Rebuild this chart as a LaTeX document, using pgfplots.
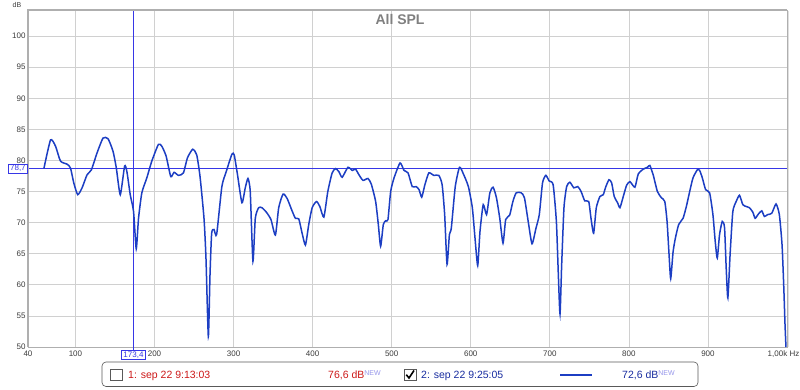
\documentclass[border=0pt]{standalone}
\usepackage{pgfplots}
\pgfplotsset{compat=1.18}
\usepackage{pgfplotstable}
\usepackage{fontspec}
\setmainfont{Liberation Sans}
\definecolor{curve}{RGB}{28,62,195}
\definecolor{cursorc}{RGB}{55,55,230}
\definecolor{gridc}{RGB}{208,208,208}
\definecolor{tickc}{RGB}{60,60,60}
\definecolor{titlec}{RGB}{128,128,128}
\definecolor{redc}{RGB}{205,25,25}
\definecolor{bluet}{RGB}{25,45,160}
\definecolor{newc}{RGB}{150,150,235}
\definecolor{framec}{RGB}{175,175,175}

\pgfplotstableread{
f db
60.1 78.7
68.5 83.3
74.8 82.3
81.1 79.9
89.5 79.4
93.7 78.8
97.9 76.4
102.9 74.5
108.4 75.6
114.7 77.7
120.2 78.5
127.3 81.2
134.9 83.6
141.2 83.5
147.5 81.5
151.7 78.8
156.7 74.5
162.2 79.1
165.1 78.2
169.3 74.5
173.5 71.8
176.9 65.8
179.8 70.7
184.0 74.8
190.3 77.2
196.6 79.9
205.0 82.6
209.2 82.3
214.7 80.7
220.6 77.4
224.8 78.1
230.3 77.6
236.6 78.0
241.6 80.4
248.3 81.8
253.4 80.9
257.6 77.4
262.6 70.7
265.1 64.3
268.1 51.7
270.2 61.6
272.3 68.3
275.2 68.9
278.6 68.1
285.2 75.8
290.7 78.2
297.9 81.0
300.8 80.9
305.0 77.7
310.6 73.2
314.8 75.6
318.2 77.1
321.1 75.0
324.5 63.8
327.5 70.7
331.7 72.4
335.9 72.4
341.4 71.7
347.3 70.5
352.9 68.0
357.1 72.4
362.6 74.6
367.7 73.9
374.0 71.9
378.2 70.7
382.5 70.6
386.7 68.3
390.9 66.4
395.1 69.7
399.4 72.4
404.9 73.4
409.1 72.6
414.2 70.9
419.2 75.0
424.7 78.0
429.0 78.7
433.2 78.2
437.4 77.3
444.6 78.9
450.1 78.4
454.3 78.6
458.6 77.7
463.7 76.8
470.0 77.1
474.2 76.2
479.7 73.4
483.1 69.7
486.0 66.2
489.4 69.7
492.4 70.3
495.3 70.5
498.7 75.0
503.0 77.2
510.6 79.6
515.6 78.4
520.7 78.0
526.0 75.8
531.0 75.8
534.6 75.3
538.0 74.1
542.0 76.1
547.0 78.0
553.3 77.6
559.6 77.6
563.8 76.1
567.0 71.3
570.0 63.3
573.0 68.1
575.4 69.1
580.4 75.8
585.8 78.9
590.8 77.8
597.0 75.8
602.0 72.4
605.4 67.5
608.8 63.1
611.7 68.6
615.8 72.9
620.0 71.3
624.2 74.8
628.3 75.7
632.5 74.0
636.7 70.7
640.8 66.7
644.2 70.5
649.2 71.2
653.3 73.4
657.5 74.8
663.8 74.8
667.9 74.0
672.9 70.0
677.5 66.6
682.5 69.1
686.7 71.3
690.8 76.4
695.0 77.6
699.2 76.7
704.2 76.1
708.3 70.2
710.8 61.6
712.9 55.3
715.0 63.2
717.9 72.4
721.3 75.8
725.4 76.5
730.4 75.6
735.4 75.8
739.6 75.0
744.2 73.5
749.2 73.4
752.1 70.7
755.4 68.3
758.8 72.4
763.4 74.2
767.6 74.5
770.6 75.7
774.8 76.9
778.2 76.4
781.5 74.2
785.7 73.2
788.7 72.4
792.9 74.2
797.1 76.0
801.3 76.6
807.6 75.7
811.8 77.8
818.1 78.6
823.5 78.9
826.5 79.2
830.7 77.7
836.1 75.0
841.2 74.0
845.4 73.4
848.3 70.2
850.8 64.9
852.9 61.0
855.9 65.3
858.8 67.5
863.0 69.7
868.5 70.7
872.7 72.6
876.9 75.0
881.1 77.2
886.6 78.5
889.5 78.4
892.9 77.2
897.1 75.3
902.1 74.8
906.3 71.3
909.2 67.0
911.8 64.3
914.7 68.1
918.1 70.2
921.0 69.2
923.1 62.7
925.2 57.9
928.2 65.3
931.5 71.8
935.7 73.4
939.9 74.4
944.1 72.9
948.3 72.6
952.5 72.4
956.7 71.7
959.7 70.7
963.9 71.4
968.1 71.9
971.4 71.0
975.6 71.3
980.7 71.5
986.1 73.0
990.3 71.3
993.7 66.5
995.8 60.1
997.5 53.6
998.7 50.0
}\spl

\begin{document}
\begin{tikzpicture}[x=1pt,y=1pt]
\useasboundingbox (0,0) rectangle (800,389);
\fill[white] (0,0) rectangle (800,389);
\begin{axis}[at={(28pt,42pt)}, anchor=south west, scale only axis,
  width=759pt, height=337pt,
  xmin=40, xmax=1000, ymin=50, ymax=104.2,
  xtick={40,100,200,300,400,500,600,700,800,900,1000},
  xticklabels={40,100,200,300,400,500,600,700,800,900,{1,00k Hz\hspace*{7pt}}},
  ytick={50,55,...,100},
  grid=major, grid style={gridc, line width=0.7pt},
  major tick length=0pt,
  axis line style={draw=framec, line width=1pt},
  ticklabel style={font=\fontsize{8}{9}\selectfont, text=tickc},
  /pgf/number format/assume math mode=true,
  yticklabel style={xshift=1pt},
  clip=true]
\addplot[draw=cursorc, line width=0.8pt] coordinates {(40,78.7) (1000,78.7)};
\draw[draw=cursorc, line width=1pt] (axis cs:173.4,50) -- (axis cs:173.4,104.2);
\addplot[draw=curve, line width=1.5pt, smooth, tension=0.35] table[x=f, y=db] {\spl};
\coordinate (ch) at (axis cs:40,78.7);
\coordinate (cv) at (axis cs:173.4,50);
\end{axis}
% frame emphasis (left and top)
\draw[framec, line width=2.5pt] (28,42) -- (28,379) -- (787,379);
\draw[gray!25, line width=1pt] (788.5,42) -- (788.5,378);
% cursor labels
\draw[cursorc, line width=1pt] (cv) -- ++(0,-3);
\node[draw=cursorc, fill=white, text=cursorc, line width=0.6pt, inner xsep=2pt, inner ysep=1.2pt,
  font=\fontsize{8}{9}\selectfont, anchor=east] at (ch) {78,7};
\node[draw=cursorc, fill=white, text=cursorc, line width=0.6pt, inner xsep=2pt, inner ysep=1.2pt,
  font=\fontsize{8}{9}\selectfont, anchor=north] at ([yshift=-3pt]cv) {173,4};
% title and unit
\node[font=\bfseries\fontsize{14}{16}\selectfont, text=titlec] at (400,369.5) {All SPL};
\node[font=\fontsize{7}{8}\selectfont, text=tickc] at (17,384.5) {dB};
% legend
\draw[gray!70!black, rounded corners=4pt, line width=0.6pt, fill=white] (102,2.5) rectangle (698,27);
\draw[gray!70!black, line width=0.6pt] (110.5,8.5) rectangle (122.5,20);
\node[anchor=base west, inner sep=0pt, text=redc, font=\fontsize{10.5}{12}\selectfont] at (128,10.3) {1: sep 22 9:13:03};
\node[anchor=base west, inner sep=0pt, text=redc, font=\fontsize{10.5}{12}\selectfont] at (328,10.3) {76,6 dB\raisebox{3.5pt}{\textcolor{newc}{\fontsize{7}{8}\selectfont NEW}}};
\draw[gray!70!black, line width=0.6pt] (404,8.5) rectangle (416,20);
\draw[black, line width=1.6pt] (406.3,14.3) -- (409,11) -- (414,18.5);
\node[anchor=base west, inner sep=0pt, text=bluet, font=\fontsize{10.5}{12}\selectfont] at (421,10.3) {2: sep 22 9:25:05};
\draw[curve, line width=1.5pt] (560,14) -- (592,14);
\node[anchor=base west, inner sep=0pt, text=bluet, font=\fontsize{10.5}{12}\selectfont] at (622,10.3) {72,6 dB\raisebox{3.5pt}{\textcolor{newc}{\fontsize{7}{8}\selectfont NEW}}};
\end{tikzpicture}
\end{document}
